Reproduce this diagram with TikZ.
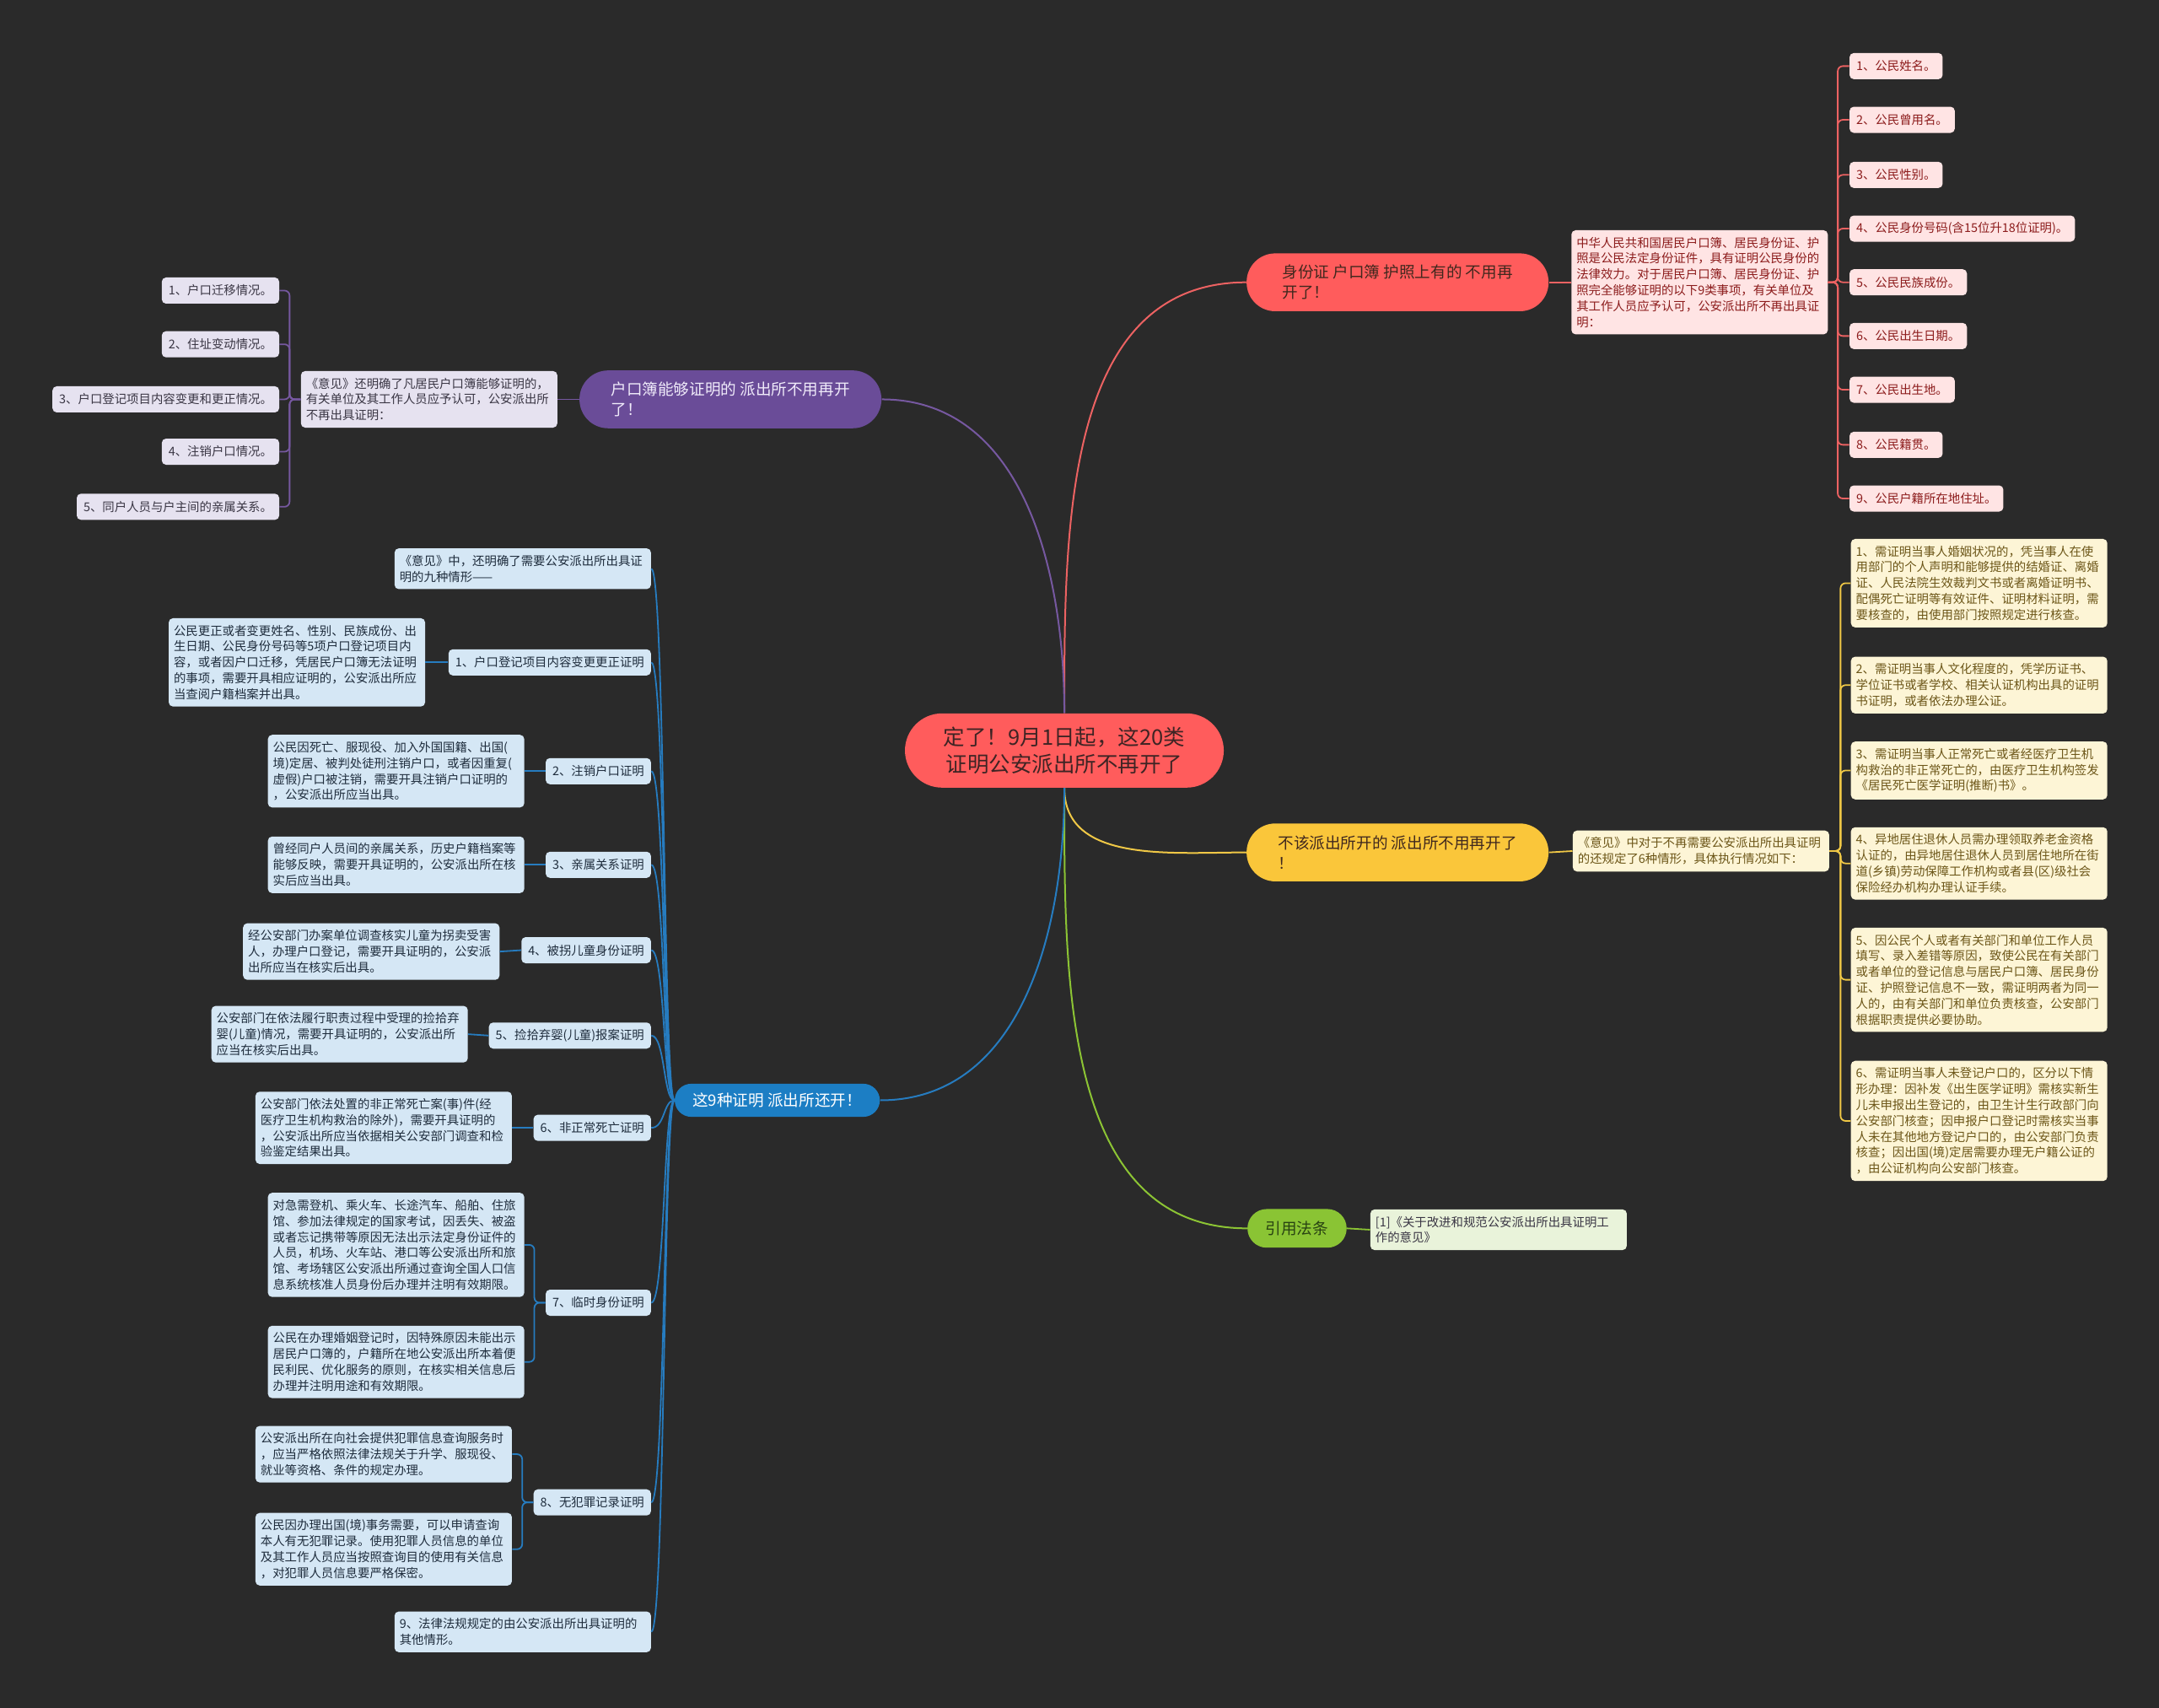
\documentclass[tikz,border=0pt]{standalone}
\usepackage{fontspec}
\setmainfont{Noto Sans CJK SC}
\usetikzlibrary{positioning,calc}
\definecolor{bgdark}{RGB}{42,42,42}
\definecolor{rootred}{RGB}{255,92,92}
\definecolor{roottext}{RGB}{62,36,36}
\definecolor{redline}{RGB}{236,98,98}
\definecolor{redleaf}{RGB}{255,228,228}
\definecolor{redtext}{RGB}{140,28,28}
\definecolor{purplemain}{RGB}{106,76,152}
\definecolor{purpletext}{RGB}{240,235,250}
\definecolor{purpleline}{RGB}{118,88,160}
\definecolor{purpleleaf}{RGB}{230,226,240}
\definecolor{leafgray}{RGB}{58,54,68}
\definecolor{bluemain}{RGB}{28,126,196}
\definecolor{blueline}{RGB}{38,124,192}
\definecolor{blueleaf}{RGB}{213,231,245}
\definecolor{bluetext}{RGB}{30,44,60}
\definecolor{yellowmain}{RGB}{250,198,58}
\definecolor{yellowline}{RGB}{240,200,70}
\definecolor{yellowleaf}{RGB}{253,245,214}
\definecolor{yellowtext}{RGB}{108,86,24}
\definecolor{greenmain}{RGB}{138,196,52}
\definecolor{greenline}{RGB}{140,196,52}
\definecolor{greenleaf}{RGB}{233,243,218}
\definecolor{greentext}{RGB}{40,66,18}
\definecolor{darktext}{RGB}{64,40,30}
\tikzset{
  rootnode/.style={fill=rootred, text=roottext, rounded corners=22pt,
    minimum width=189pt, minimum height=44pt, align=center,
    font=\fontsize{12.75pt}{16.2pt}\selectfont},
  branch/.style={rounded corners=17pt, minimum width=179pt, minimum height=34.3pt,
    align=left, inner xsep=8pt, font=\fontsize{9.3pt}{12.2pt}\selectfont},
  leaf/.style={rounded corners=2.5pt, text width=146pt, inner xsep=3pt, inner ysep=4pt,
    align=left, font=\fontsize{7.2pt}{9.4pt}\selectfont},
  tag/.style={rounded corners=2.5pt, inner xsep=4pt, inner ysep=0pt,
    minimum height=15.5pt, font=\fontsize{7.2pt}{9.4pt}\selectfont},
  mainlink/.style={line width=1pt},
  sublink/.style={line width=0.9pt},
}
\begin{document}
\begin{tikzpicture}[x=0.8163pt,y=-0.8163pt]
  \fill[bgdark] (0,0) rectangle (1568,1240);

  % root
  \node[rootnode] (root) at (773,545) {定了！9月1日起，这20类\\证明公安派出所不再开了};

  % ID card branch
  \node[branch, fill=rootred, text=darktext] (idcard) at (1015,205) {身份证 户口簿 护照上有的 不用再\\开了！};
  \draw[redline, mainlink] (root.north) to[out=90,in=180] (idcard.west);
  \node[leaf, fill=redleaf, text=redtext, anchor=west] (idnote) at (1141,205)
    {中华人民共和国居民户口簿、居民身份证、护\\照是公民法定身份证件，具有证明公民身份的\\法律效力。对于居民户口簿、居民身份证、护\\照完全能够证明的以下9类事项，有关单位及\\其工作人员应予认可，公安派出所不再出具证\\明：};
  \draw[redline, sublink] (idcard.east) -- (idnote.west);
  \foreach \i/\y/\txt in {1/48/{1、公民姓名。}, 2/87/{2、公民曾用名。}, 3/127/{3、公民性别。},
      4/166/{4、公民身份号码(含15位升18位证明)。}, 5/205/{5、公民民族成份。},
      6/244/{6、公民出生日期。}, 7/283/{7、公民出生地。}, 8/323/{8、公民籍贯。},
      9/362/{9、公民户籍所在地住址。}}{
    \node[tag, fill=redleaf, text=redtext, anchor=west] (id\i) at (1343,\y) {\txt};
    \draw[redline, sublink, rounded corners=3pt] (idnote.east) -- ++(7,0) |- (id\i.west);
  }

  % household register branch
  \node[branch, fill=purplemain, text=purpletext] (hukou) at (530.5,290) {户口簿能够证明的 派出所不用再开\\了！};
  \draw[purpleline, mainlink] (root.north) to[out=90,in=0] (hukou.east);
  \node[leaf, fill=purpleleaf, text=leafgray, anchor=east] (hknote) at (405,290)
    {《意见》还明确了凡居民户口簿能够证明的，\\有关单位及其工作人员应予认可，公安派出所\\不再出具证明：};
  \draw[purpleline, sublink] (hukou.west) -- (hknote.east);
  \foreach \i/\y/\txt in {1/211/{1、户口迁移情况。}, 2/250/{2、住址变动情况。},
      3/290/{3、户口登记项目内容变更和更正情况。}, 4/328/{4、注销户口情况。},
      5/368/{5、同户人员与户主间的亲属关系。}}{
    \node[tag, fill=purpleleaf, text=leafgray, anchor=east] (hk\i) at (203,\y) {\txt};
    \draw[purpleline, sublink, rounded corners=3pt] (hknote.west) -- ++(-8,0) |- (hk\i.east);
  }

  % not for the police station branch
  \node[branch, fill=yellowmain, text=darktext] (notours) at (1015,619) {不该派出所开的 派出所不用再开了\\！};
  \draw[yellowline, mainlink] (root.south) to[out=-90,in=180] (notours.west);
  \node[leaf, fill=yellowleaf, text=yellowtext, anchor=west] (ynote) at (1142,618)
    {《意见》中对于不再需要公安派出所出具证明\\的还规定了6种情形，具体执行情况如下：};
  \draw[yellowline, sublink] (notours.east) -- (ynote.west);
  \foreach \i/\y/\txt in {
      1/423.5/{1、需证明当事人婚姻状况的，凭当事人在使\\用部门的个人声明和能够提供的结婚证、离婚\\证、人民法院生效裁判文书或者离婚证明书、\\配偶死亡证明等有效证件、证明材料证明，需\\要核查的，由使用部门按照规定进行核查。},
      2/497.5/{2、需证明当事人文化程度的，凭学历证书、\\学位证书或者学校、相关认证机构出具的证明\\书证明，或者依法办理公证。},
      3/559.5/{3、需证明当事人正常死亡或者经医疗卫生机\\构救治的非正常死亡的，由医疗卫生机构签发\\《居民死亡医学证明(推断)书》。},
      4/627/{4、异地居住退休人员需办理领取养老金资格\\认证的，由异地居住退休人员到居住地所在街\\道(乡镇)劳动保障工作机构或者县(区)级社会\\保险经办机构办理认证手续。},
      5/711.5/{5、因公民个人或者有关部门和单位工作人员\\填写、录入差错等原因，致使公民在有关部门\\或者单位的登记信息与居民户口簿、居民身份\\证、护照登记信息不一致，需证明两者为同一\\人的，由有关部门和单位负责核查，公安部门\\根据职责提供必要协助。},
      6/814/{6、需证明当事人未登记户口的，区分以下情\\形办理：因补发《出生医学证明》需核实新生\\儿未申报出生登记的，由卫生计生行政部门向\\公安部门核查；因申报户口登记时需核实当事\\人未在其他地方登记户口的，由公安部门负责\\核查；因出国(境)定居需要办理无户籍公证的\\，由公证机构向公安部门核查。}}{
    \node[leaf, fill=yellowleaf, text=yellowtext, anchor=west] (yi\i) at (1344,\y) {\txt};
    \draw[yellowline, sublink, rounded corners=3pt] (ynote.east) -- ++(8,0) |- (yi\i.west);
  }

  % legal reference branch
  \node[branch, fill=greenmain, text=greentext, minimum width=58.8pt, minimum height=22.9pt,
        rounded corners=11.4pt] (law) at (942,892) {引用法条};
  \draw[greenline, mainlink] (root.south) to[out=-90,in=180] (law.west);
  \node[leaf, fill=greenleaf, text=leafgray, anchor=west] (lawnote) at (995,893)
    {{[1]}《关于改进和规范公安派出所出具证明工\\作的意见》};
  \draw[greenline, sublink] (law.east) -- (lawnote.west);

  % nine cases still issued
  \node[branch, fill=bluemain, text=white, minimum width=121.6pt, minimum height=19.6pt,
        rounded corners=9.8pt] (nine) at (564.5,799) {这9种证明 派出所还开！};
  \draw[blueline, mainlink] (root.south) to[out=-90,in=0] (nine.east);
  \node[leaf, fill=blueleaf, text=bluetext, anchor=east] (nb0) at (473,413)
    {《意见》中，还明确了需要公安派出所出具证\\明的九种情形——};
  \foreach \i/\y/\lab in {1/481/{1、户口登记项目内容变更更正证明}, 2/560/{2、注销户口证明},
      3/628/{3、亲属关系证明}, 4/690/{4、被拐儿童身份证明}, 5/752/{5、捡拾弃婴(儿童)报案证明},
      6/819/{6、非正常死亡证明}, 7/946/{7、临时身份证明}, 8/1091/{8、无犯罪记录证明}}
    \node[tag, fill=blueleaf, text=bluetext, anchor=east] (nb\i) at (473,\y) {\lab};
  \node[leaf, fill=blueleaf, text=bluetext, anchor=east] (nb9) at (473,1185)
    {9、法律法规规定的由公安派出所出具证明的\\其他情形。};
  \foreach \i in {0,...,9}
    \draw[blueline, sublink] (nine.west) .. controls +(-8,0) and +(10,0) .. (nb\i.east);

  % details of the cases
  \foreach \i/\x/\y/\txt in {
      1/309/481/{公民更正或者变更姓名、性别、民族成份、出\\生日期、公民身份号码等5项户口登记项目内\\容，或者因户口迁移，凭居民户口簿无法证明\\的事项，需要开具相应证明的，公安派出所应\\当查阅户籍档案并出具。},
      2/381/560/{公民因死亡、服现役、加入外国国籍、出国(\\境)定居、被判处徒刑注销户口，或者因重复(\\虚假)户口被注销，需要开具注销户口证明的\\，公安派出所应当出具。},
      3/381/628/{曾经同户人员间的亲属关系，历史户籍档案等\\能够反映，需要开具证明的，公安派出所在核\\实后应当出具。},
      4/363/691/{经公安部门办案单位调查核实儿童为拐卖受害\\人，办理户口登记，需要开具证明的，公安派\\出所应当在核实后出具。},
      5/340/751/{公安部门在依法履行职责过程中受理的捡拾弃\\婴(儿童)情况，需要开具证明的，公安派出所\\应当在核实后出具。},
      6/372/819/{公安部门依法处置的非正常死亡案(事)件(经\\医疗卫生机构救治的除外)，需要开具证明的\\，公安派出所应当依据相关公安部门调查和检\\验鉴定结果出具。}}{
    \node[leaf, fill=blueleaf, text=bluetext, anchor=east] (nd\i) at (\x,\y) {\txt};
    \draw[blueline, sublink] (nb\i.west) -- (nd\i.east);
  }
  \node[leaf, fill=blueleaf, text=bluetext, anchor=east] (nd7a) at (381,904)
    {对急需登机、乘火车、长途汽车、船舶、住旅\\馆、参加法律规定的国家考试，因丢失、被盗\\或者忘记携带等原因无法出示法定身份证件的\\人员，机场、火车站、港口等公安派出所和旅\\馆、考场辖区公安派出所通过查询全国人口信\\息系统核准人员身份后办理并注明有效期限。};
  \node[leaf, fill=blueleaf, text=bluetext, anchor=east] (nd7b) at (381,989)
    {公民在办理婚姻登记时，因特殊原因未能出示\\居民户口簿的，户籍所在地公安派出所本着便\\民利民、优化服务的原则，在核实相关信息后\\办理并注明用途和有效期限。};
  \node[leaf, fill=blueleaf, text=bluetext, anchor=east] (nd8a) at (372,1056)
    {公安派出所在向社会提供犯罪信息查询服务时\\，应当严格依照法律法规关于升学、服现役、\\就业等资格、条件的规定办理。};
  \node[leaf, fill=blueleaf, text=bluetext, anchor=east] (nd8b) at (372,1125)
    {公民因办理出国(境)事务需要，可以申请查询\\本人有无犯罪记录。使用犯罪人员信息的单位\\及其工作人员应当按照查询目的使用有关信息\\，对犯罪人员信息要严格保密。};
  \foreach \k in {7,8}
    \foreach \s in {a,b}
      \draw[blueline, sublink, rounded corners=3pt] (nb\k.west) -- ++(-8,0) |- (nd\k\s.east);
\end{tikzpicture}
\end{document}
